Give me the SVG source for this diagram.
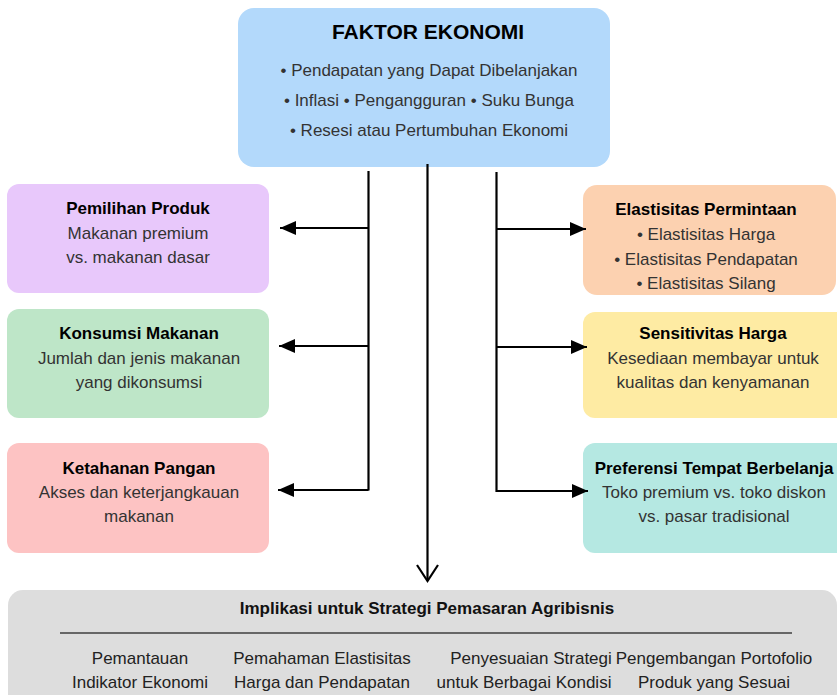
<svg xmlns="http://www.w3.org/2000/svg" width="837" height="695" viewBox="0 0 837 695">
  <defs>
    <marker id="arrow" viewBox="0 0 16 14" refX="16" refY="7" markerWidth="16" markerHeight="14" markerUnits="userSpaceOnUse" orient="auto">
      <path d="M0,0 L16,7 L0,14 Z" fill="#000"/>
    </marker>
    <style>
      text { font-family: "Liberation Sans", Arial, sans-serif; text-anchor: middle; }
      .h0 { font-size: 21px; font-weight: bold; fill: #000; }
      .h1 { font-size: 17px; font-weight: bold; fill: #000; }
      .t { font-size: 17px; fill: #333; }
      .b { font-size: 17px; fill: #222; }
      .hb { font-size: 17px; font-weight: bold; fill: #111; }
      .box { stroke: none; }
      .ln { stroke: #000; stroke-width: 2.2; fill: none; }
    </style>
  </defs>

  <rect width="837" height="695" fill="#ffffff"/>

  <!-- central factor box -->
  <g id="faktor-ekonomi">
    <rect class="box" x="238" y="8" width="372" height="159" rx="16" fill="#b3d9fb"/>
    <text class="h0" x="428" y="39">FAKTOR EKONOMI</text>
    <text class="t" x="429" y="76">• Pendapatan yang Dapat Dibelanjakan</text>
    <text class="t" x="429" y="106">• Inflasi • Pengangguran • Suku Bunga</text>
    <text class="t" x="429" y="136">• Resesi atau Pertumbuhan Ekonomi</text>
  </g>

  <!-- left column -->
  <g id="pemilihan-produk">
    <rect class="box" x="7" y="184" width="262" height="109" rx="12" fill="#e8c8fb"/>
    <text class="h1" x="138" y="214">Pemilihan Produk</text>
    <text class="t" x="138" y="239">Makanan premium</text>
    <text class="t" x="138" y="263">vs. makanan dasar</text>
  </g>
  <g id="konsumsi-makanan">
    <rect class="box" x="7" y="309" width="262" height="109" rx="12" fill="#bee6c8"/>
    <text class="h1" x="139" y="339">Konsumsi Makanan</text>
    <text class="t" x="139" y="364">Jumlah dan jenis makanan</text>
    <text class="t" x="139" y="388">yang dikonsumsi</text>
  </g>
  <g id="ketahanan-pangan">
    <rect class="box" x="7" y="443" width="262" height="110" rx="12" fill="#fdc3c3"/>
    <text class="h1" x="139" y="474">Ketahanan Pangan</text>
    <text class="t" x="139" y="498">Akses dan keterjangkauan</text>
    <text class="t" x="139" y="522">makanan</text>
  </g>

  <!-- right column -->
  <g id="elastisitas-permintaan">
    <rect class="box" x="583" y="185" width="253" height="110" rx="14" fill="#fcd1b0"/>
    <text class="h1" x="706" y="215">Elastisitas Permintaan</text>
    <text class="t" x="706" y="240">• Elastisitas Harga</text>
    <text class="t" x="706" y="265">• Elastisitas Pendapatan</text>
    <text class="t" x="706" y="289">• Elastisitas Silang</text>
  </g>
  <g id="sensitivitas-harga">
    <rect class="box" x="583" y="312" width="270" height="106" rx="12" fill="#feeba3"/>
    <text class="h1" x="713" y="339">Sensitivitas Harga</text>
    <text class="t" x="713" y="364">Kesediaan membayar untuk</text>
    <text class="t" x="713" y="388">kualitas dan kenyamanan</text>
  </g>
  <g id="preferensi-tempat">
    <rect class="box" x="583" y="443" width="270" height="110" rx="12" fill="#b5e8e2"/>
    <text class="h1" x="714" y="474">Preferensi Tempat Berbelanja</text>
    <text class="t" x="714" y="498">Toko premium vs. toko diskon</text>
    <text class="t" x="714" y="522">vs. pasar tradisional</text>
  </g>

  <!-- implications panel -->
  <g id="implikasi">
    <rect class="box" x="8" y="590" width="829" height="120" rx="15" fill="#dddddd"/>
    <text class="hb" x="427" y="614">Implikasi untuk Strategi Pemasaran Agribisnis</text>
    <line x1="60" y1="633" x2="792" y2="633" stroke="#666" stroke-width="2"/>
    <text class="b" x="140" y="664">Pemantauan</text>
    <text class="b" x="140" y="688">Indikator Ekonomi</text>
    <text class="b" x="322" y="664">Pemahaman Elastisitas</text>
    <text class="b" x="322" y="688">Harga dan Pendapatan</text>
    <text class="b" x="531" y="664">Penyesuaian Strategi</text>
    <text class="b" x="524" y="688">untuk Berbagai Kondisi</text>
    <text class="b" x="714" y="664">Pengembangan Portofolio</text>
    <text class="b" x="714" y="688">Produk yang Sesuai</text>
  </g>

  <!-- connectors -->
  <g id="connectors">
    <!-- left trunk and branches -->
    <path class="ln" d="M368.5,171 V490.5"/>
    <path class="ln" d="M368.5,228 H280" marker-end="url(#arrow)"/>
    <path class="ln" d="M368.5,346 H279" marker-end="url(#arrow)"/>
    <path class="ln" d="M368.5,490 H278" marker-end="url(#arrow)"/>
    <!-- right trunk and branches -->
    <path class="ln" d="M496.5,172 V492"/>
    <path class="ln" d="M496.5,229 H586" marker-end="url(#arrow)"/>
    <path class="ln" d="M496.5,347 H587" marker-end="url(#arrow)"/>
    <path class="ln" d="M496.5,491 H588" marker-end="url(#arrow)"/>
    <!-- centre line down to implications -->
    <path class="ln" d="M427.5,164 V581"/>
    <path class="ln" d="M417,565 L427.5,581 L438,565"/>
  </g>
</svg>
